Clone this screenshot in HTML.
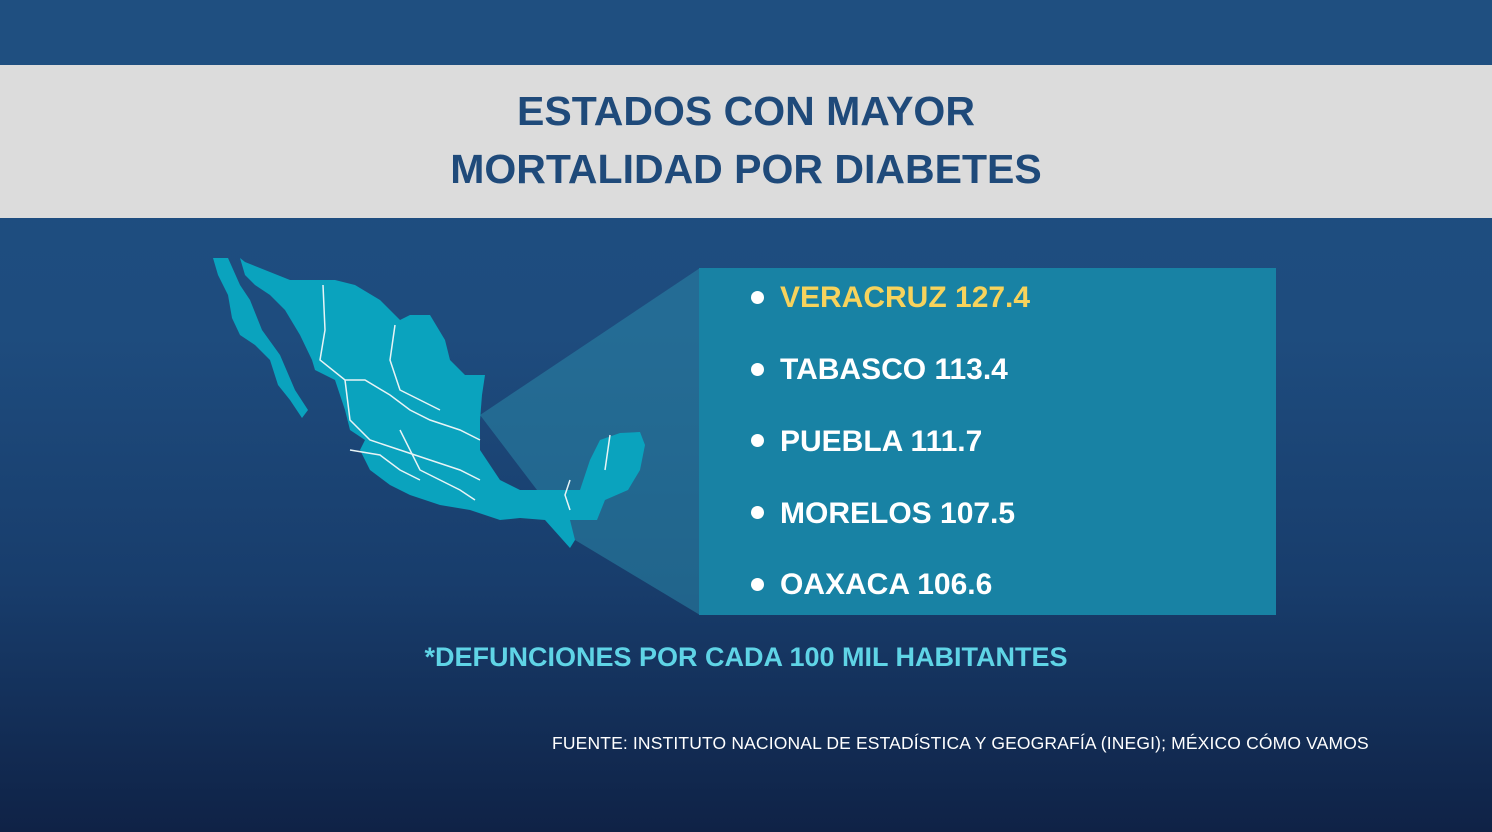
<!DOCTYPE html>
<html><head><meta charset="utf-8"><style>
body{margin:0;width:1492px;height:832px;overflow:hidden;position:relative;font-family:"Liberation Sans","DejaVu Sans",sans-serif;background:linear-gradient(180deg,#1f4f82 0%,#1e4c7e 40%,#183d6c 70%,#0f2246 100%);}
.top{position:absolute;left:0;top:0;width:1492px;height:65px;background:#1f4f80;}
.band{position:absolute;left:0;top:65px;width:1492px;height:153px;background:#dcdcdc;}
.t{position:absolute;left:0;width:1492px;text-align:center;color:#1f4a7a;font-weight:bold;font-size:41px;}
.box{position:absolute;left:699px;top:268px;width:577px;height:347px;background:#1882a4;}
.it{position:absolute;left:780px;color:#fff;font-weight:bold;font-size:30px;}
.dot{position:absolute;left:751px;width:13px;height:13px;border-radius:50%;background:#fff;}
.fn{position:absolute;left:0;width:1492px;text-align:center;top:642px;color:#5fd4e6;font-weight:bold;font-size:27px;}
.src{position:absolute;left:552px;top:733px;color:#fff;font-size:17.5px;letter-spacing:0.15px;}
</style></head><body>
<div class="top"></div>
<div class="band"></div>
<div class="t" style="top:88px">ESTADOS CON MAYOR</div>
<div class="t" style="top:146px">MORTALIDAD POR DIABETES</div>
<svg width="1492" height="832" style="position:absolute;left:0;top:0">
<polygon points="700,268 480,415 575,540 700,615" fill="#2a86a8" opacity="0.55"/>
<polygon fill="#0aa3be" points="240,258 245,262 290,280 335,280 355,285 380,300 400,320 410,315 430,315 445,340 450,360 465,375 485,375 482,395 480,420 480,450 500,480 520,490 545,490 580,490 590,460 600,440 620,433 640,432 645,445 640,470 628,490 605,500 597,520 570,520 575,540 570,548 545,520 520,518 500,520 470,510 440,505 410,495 390,485 370,470 360,450 365,440 350,430 345,410 335,380 315,370 312,360 300,335 285,310 270,295 255,285 245,275"/>
<polygon fill="#0aa3be" points="213,258 228,258 240,285 250,300 262,330 280,355 295,390 308,410 302,418 290,400 278,385 270,360 255,345 240,335 232,318 228,295 218,275"/>
<g stroke="#e8f4f6" stroke-width="1.5" fill="none">
<path d="M323,285 L325,330 L320,360 L345,380 L365,380 L390,395 L410,410 L430,420 L460,430 L480,440"/>
<path d="M395,325 L390,360 L400,390 L420,400 L440,410"/>
<path d="M345,380 L350,420 L370,440 L400,450 L430,460 L460,470 L480,480"/>
<path d="M400,430 L420,470 L440,480 L460,490 L475,500"/>
<path d="M350,450 L380,455 L400,470 L420,480"/>
<path d="M570,480 L565,495 L570,510 M610,435 L605,470"/>
</g>
</svg>
<div class="box"></div>
<div class="dot" style="top:291px"></div><div class="it" style="top:281px;color:#f7d35c">VERACRUZ 127.4</div>
<div class="dot" style="top:363px"></div><div class="it" style="top:353px">TABASCO 113.4</div>
<div class="dot" style="top:434px"></div><div class="it" style="top:425px">PUEBLA 111.7</div>
<div class="dot" style="top:506px"></div><div class="it" style="top:497px">MORELOS 107.5</div>
<div class="dot" style="top:578px"></div><div class="it" style="top:568px">OAXACA 106.6</div>
<div class="fn">*DEFUNCIONES POR CADA 100 MIL HABITANTES</div>
<div class="src">FUENTE: INSTITUTO NACIONAL DE ESTADÍSTICA Y GEOGRAFÍA (INEGI); MÉXICO CÓMO VAMOS</div>
</body></html>
